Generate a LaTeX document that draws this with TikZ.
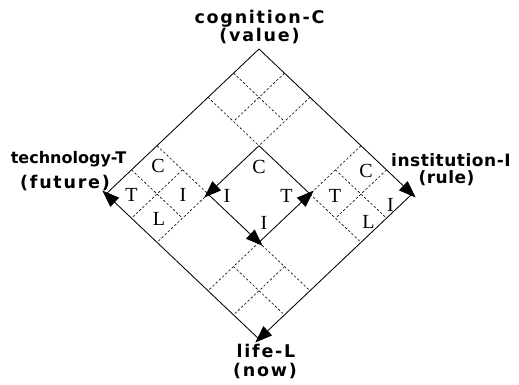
\documentclass[tikz,border=0pt]{standalone}
\usepackage{fontspec}
\setmainfont{Liberation Serif}
\newfontfamily\titlefont{DejaVu Sans}[LetterSpace=10]
\newfontfamily\titletight{DejaVu Sans}[LetterSpace=3]
\newfontfamily\techfont{DejaVu Sans}
\usetikzlibrary{arrows.meta}
\begin{document}
\begin{tikzpicture}[x=1pt,y=-1pt,
  edge/.style={line width=0.85pt},
  gridline/.style={line width=0.6pt, dash pattern=on 2.4pt off 2pt},
  tipped/.style={-{Triangle[length=17pt,width=12.5pt]}, shorten >=-5pt},
  cell/.style={font=\fontsize{20}{20}\selectfont, inner sep=0pt},
  title/.style={font=\titlefont\bfseries\fontsize{17.5}{17.5}\selectfont, anchor=base, inner sep=0pt},
  titlet/.style={font=\titletight\bfseries\fontsize{17}{17}\selectfont, anchor=base, inner sep=0pt},
  techtitle/.style={font=\techfont\bfseries\fontsize{16}{16}\selectfont, anchor=base, inner sep=0pt},
]
\useasboundingbox (0,0) rectangle (519,384);
\begin{scope}[shift={(259,49)}, x={(25.5pt,-24.17pt)}, y={(-25.5pt,-24.17pt)}]
  % corners
  \coordinate (top) at (0,0);
  \coordinate (right) at (6,0);
  \coordinate (left) at (0,6);
  \coordinate (bottom) at (6,6);
  \coordinate (itop) at (2,2);
  \coordinate (iright) at (4,2);
  \coordinate (ileft) at (2,4);
  \coordinate (ibot) at (4,4);
  % dashed subdivisions: top cell
  \draw[gridline] (1,0) -- (1,2) (2,0) -- (2,2) (0,1) -- (2,1) (0,2) -- (2,2);
  % left cell
  \draw[gridline] (0,4) -- (2,4) (0,5) -- (2,5) (1,4) -- (1,6) (2,4) -- (2,6);
  % right cell
  \draw[gridline] (4,0) -- (4,2) (5,0) -- (5,2) (4,1) -- (6,1) (4,2) -- (6,2);
  % bottom cell
  \draw[gridline] (4,4) -- (4,6) (5,4) -- (5,6) (4,4) -- (6,4) (4,5) -- (6,5);
  % outer diamond
  \draw[edge,tipped] (top) -- (right);
  \draw[edge,tipped] (right) -- (bottom);
  \draw[edge,tipped] (bottom) -- (left);
  \draw[edge] (left) -- (top);
  % inner diamond
  \draw[edge,tipped] (itop) -- (ileft);
  \draw[edge,tipped] (ileft) -- (ibot);
  \draw[edge,tipped] (ibot) -- (iright);
  \draw[edge] (iright) -- (itop);
\end{scope}
% cell letters: left cell
\node[cell] (lc) at (158,165.5) {C};
\node[cell] (lt) at (131.5,194.5) {T};
\node[cell] (li) at (183,195) {I};
\node[cell] (ll) at (159,219) {L};
% inner
\node[cell] (cc) at (259,166.5) {C};
\node[cell] (ci) at (227,195.5) {I};
\node[cell] (ct) at (286.5,196) {T};
\node[cell] (cb) at (264,222.5) {I};
% right cell
\node[cell] (rc) at (366,171) {C};
\node[cell] (rt) at (335,195.5) {T};
\node[cell] (rl) at (368.5,222) {L};
\node[cell] (ri) at (390.5,205) {I};
% titles
\node[title] (cog) at (259.5,23) {cognition-C};
\node[title] (val) at (259.5,41) {(value)};
\node[techtitle] (tech) at (68.5,163.5) {technology-T};
\node[title] (fut) at (65,188.5) {(future)};
\node[titlet, anchor=base west] (inst) at (391,166) {institution-I};
\node[titlet] (rul) at (446.5,183.5) {(rule)};
\node[title] (life) at (266,357) {life-L};
\node[title] (now) at (265,376) {(now)};
\end{tikzpicture}
\end{document}
